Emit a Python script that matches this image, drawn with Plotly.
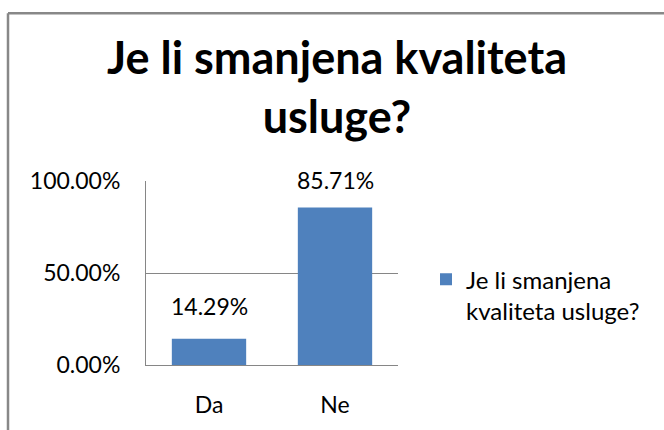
import plotly.graph_objects as go

categories = ["Da", "Ne"]
values = [0.1429, 0.8571]
series_name = "Je li smanjena<br>kvaliteta usluge?"
title_text = "Je li smanjena kvaliteta<br>usluge?"
tick_vals = [0, 0.5, 1.0]
tick_text = ["0.00%", "50.00%", "100.00%"]

label_shift = [17, 12]  # style: vertical offset of data labels (px)

FONT = "Lato"
BAR = "#4F81BD"
GRID = "#868686"

fig = go.Figure()
fig.add_trace(go.Bar(
    x=categories, y=values, name=series_name,
    marker=dict(color=BAR, line=dict(width=0)),
    width=0.59, showlegend=True,
))

for c, v, s in zip(categories, values, label_shift):
    fig.add_annotation(x=c, y=v, text=f"{v*100:.2f}%", showarrow=False,
                       yanchor="bottom", yshift=s,
                       font=dict(family=FONT, size=23, color="black"))

L, R, T, B = 146, 266, 181, 56
W, H = 664, 430
pw = W - L - R
ph = H - T - B

bx = (8 - L) / pw
by = (H - B - 5) / ph
fig.add_shape(type="line", xref="paper", yref="paper",
              x0=bx, x1=(670 - L) / pw, y0=by, y1=by,
              line=dict(color="#888888", width=2.5), layer="above")
fig.add_shape(type="line", xref="paper", yref="paper",
              x0=bx, x1=bx, y0=-1, y1=by,
              line=dict(color="#888888", width=2.5), layer="above")

fig.update_layout(
    width=W, height=H,
    margin=dict(l=L, r=R, t=T, b=B),
    paper_bgcolor="white", plot_bgcolor="white",
    font=dict(family=FONT, color="black"),
    title=dict(text=title_text, x=0.5075, xanchor="center", xref="container",
               y=1 - 74 / H, yanchor="top", yref="container",
               font=dict(family=FONT, size=45, color="black", weight="bold")),
    xaxis=dict(showline=True, linecolor=GRID, linewidth=1, showgrid=False,
               ticks="", tickfont=dict(family=FONT, size=23, color="black"),
               ticklabelstandoff=19),
    yaxis=dict(range=[0, 1.002], tickvals=tick_vals, ticktext=tick_text,
               showline=True, linecolor=GRID, linewidth=1,
               showgrid=True, gridcolor=GRID, gridwidth=1,
               zeroline=False, ticks="",
               tickfont=dict(family=FONT, size=23, color="black"),
               ticklabelstandoff=20),
    legend=dict(x=(426 - L) / pw, xanchor="left", y=(H - B - 261) / ph, yanchor="top",
                font=dict(family=FONT, size=24, color="black"), valign="top",
                bgcolor="rgba(0,0,0,0)", itemsizing="constant"),
    bargap=0.41,
)

fig.write_html("out.html", config={"displayModeBar": False},
               post_script="document.body.style.margin='0';")
